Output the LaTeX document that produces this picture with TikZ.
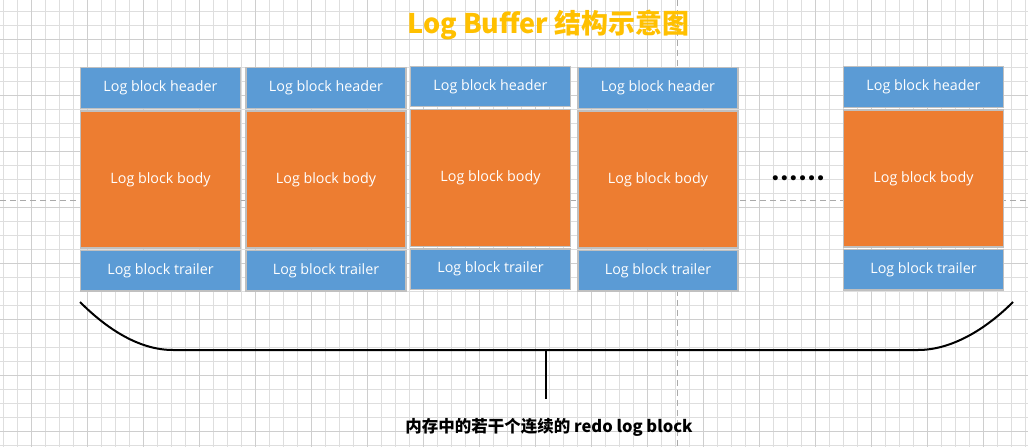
\documentclass[tikz,border=0pt]{standalone}
\usepackage{fontspec}
\setmainfont{Open Sans}
\newfontfamily\cjkfont{Noto Sans CJK SC}
\newfontfamily\dotfont{Carlito}
\definecolor{gridminor}{RGB}{222,222,222}
\definecolor{gridmajor}{RGB}{206,206,206}
\definecolor{dashgray}{RGB}{170,170,170}
\definecolor{hdrblue}{RGB}{91,155,213}
\definecolor{bodyorange}{RGB}{237,125,49}
\definecolor{bordergray}{RGB}{192,192,192}
\definecolor{titlegold}{RGB}{255,192,0}
\tikzset{
  cell/.style={draw=bordergray, line width=1.2pt, text=white, inner sep=0pt,
    minimum width=160pt, font=\fontsize{14.3}{16}\selectfont},
  hdrcell/.style={cell, fill=hdrblue, minimum height=40.5pt},
  bodycell/.style={cell, fill=bodyorange, minimum height=137pt},
  trlcell/.style={cell, fill=hdrblue, minimum height=40.5pt},
  bracestyle/.style={line width=2pt, black},
}
\begin{document}
\begin{tikzpicture}[x=1pt, y=-1pt]
\useasboundingbox[fill=white] (0,0) rectangle (1028,447);
% grid
\foreach \k in {0,...,73} { \draw[gridminor, line width=1pt] (3.3+14*\k,0) -- (3.3+14*\k,447); }
\foreach \k in {0,...,31} { \draw[gridminor, line width=1pt] (0,11.7+14*\k) -- (1028,11.7+14*\k); }
\foreach \k in {0,...,18} { \draw[gridmajor, line width=1pt] (31.7+56*\k,0) -- (31.7+56*\k,447); }
\foreach \k in {0,...,7} { \draw[gridmajor, line width=1pt] (0,39.3+56*\k) -- (1028,39.3+56*\k); }
\draw[dashgray, line width=1pt, dash pattern=on 6pt off 4pt] (677.7,0) -- (677.7,447);
\draw[dashgray, line width=1pt, dash pattern=on 6pt off 4pt] (0,200) -- (1028,200);
% title
\node[anchor=base, text=titlegold, font=\cjkfont\bfseries\fontsize{27}{30}\selectfont] (title) at (548.5,33) {Log Buffer 结构示意图};
% blocks
\foreach \i/\cx/\dy in {1/160.5/0, 2/326/0, 3/490.5/-1.5, 4/658/0, 5/923.5/-1} {
  \node[hdrcell] (h\i) at (\cx,88+\dy) {Log block header};
  \node[bodycell] (b\i) at (\cx,179.5+\dy) {Log block body};
  \node[trlcell] (t\i) at (\cx,270.75+\dy) {Log block trailer};
}
% dots
\node[anchor=base, inner sep=0pt, font=\dotfont\bfseries\fontsize{34}{36}\selectfont] (dots) at (798,180) {......};
% brace
\coordinate (bl) at (80,302);
\coordinate (bml) at (173,350);
\coordinate (bmid) at (545.5,350);
\coordinate (bmr) at (918,350);
\coordinate (br) at (1013,302);
\draw[bracestyle] (bl) .. controls (108,330) and (140,350) .. (bml) -- (bmr) .. controls (951,350) and (985,330) .. (br);
\node[anchor=base, font=\cjkfont\bfseries\fontsize{16.5}{18}\selectfont] (label) at (549,432) {内存中的若干个连续的 redo log block};
\coordinate (stemend) at (545.5,399);
\draw[bracestyle] (bmid) -- (stemend);
\end{tikzpicture}
\end{document}
